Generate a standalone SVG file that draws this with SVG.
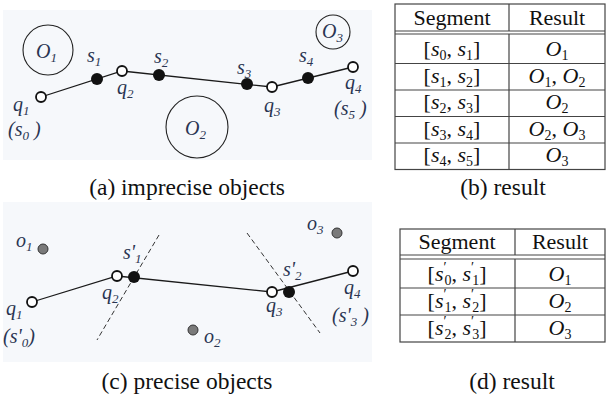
<svg xmlns="http://www.w3.org/2000/svg" width="607" height="396" viewBox="0 0 607 396">
<style>
.bg{fill:#f6f8fb}
.ln{stroke:#1a1a1a;stroke-width:1.3;fill:none}
.dash{stroke:#333;stroke-width:1;stroke-dasharray:5 3;fill:none}
.open{fill:#fff;stroke:#111;stroke-width:1.8}
.full{fill:#111}
.obj{fill:#7a7a7a;stroke:#333;stroke-width:1}
.circ{fill:none;stroke:#222;stroke-width:1.1}
text{font-family:'Liberation Serif','Times New Roman',serif}
.lbl{font-style:italic;font-size:20px;fill:#2a3552}
.s{font-size:13px}
.cap{font-size:23.5px;fill:#111;text-anchor:middle}
.tt{font-size:22px;fill:#111;text-anchor:middle}
.i{font-style:italic}
.sb{font-size:14px}
.tb{stroke:#444;stroke-width:1.2;fill:none}
</style>
<rect class="bg" x="3" y="10" width="369" height="150"/>
<rect class="bg" x="3" y="202" width="369" height="160"/>

<g id="connectors-a">
<polyline class="ln" points="41,97 122,71 272,87 353,67"/>
</g>
<g id="O1"><circle class="circ" cx="48" cy="50" r="25"/><text class="lbl" x="36" y="58">O<tspan class="s" dy="4">1</tspan></text></g>
<g id="O2"><circle class="circ" cx="197" cy="127" r="31"/><text class="lbl" x="185" y="135">O<tspan class="s" dy="4">2</tspan></text></g>
<g id="O3"><circle class="circ" cx="333" cy="32" r="17"/><text class="lbl" x="322" y="38">O<tspan class="s" dy="4">3</tspan></text></g>
<g id="q1a"><circle class="open" cx="41" cy="97" r="5"/><text class="lbl" x="13" y="111">q<tspan class="s" dy="4">1</tspan></text><text class="lbl" x="8" y="136">(s<tspan class="s" dy="4">0</tspan><tspan dy="-4"> )</tspan></text></g>
<g id="s1a"><circle class="full" cx="97" cy="79" r="6"/><text class="lbl" x="87" y="62">s<tspan class="s" dy="4">1</tspan></text></g>
<g id="q2a"><circle class="open" cx="122" cy="71" r="5"/><text class="lbl" x="117" y="94">q<tspan class="s" dy="4">2</tspan></text></g>
<g id="s2a"><circle class="full" cx="159" cy="75" r="6"/><text class="lbl" x="154" y="63">s<tspan class="s" dy="4">2</tspan></text></g>
<g id="s3a"><circle class="full" cx="247" cy="84" r="6"/><text class="lbl" x="237" y="74">s<tspan class="s" dy="4">3</tspan></text></g>
<g id="q3a"><circle class="open" cx="272" cy="87" r="5"/><text class="lbl" x="264" y="112">q<tspan class="s" dy="4">3</tspan></text></g>
<g id="s4a"><circle class="full" cx="308" cy="78" r="6"/><text class="lbl" x="299" y="62">s<tspan class="s" dy="4">4</tspan></text></g>
<g id="q4a"><circle class="open" cx="353" cy="67" r="5"/><text class="lbl" x="345" y="89">q<tspan class="s" dy="4">4</tspan></text><text class="lbl" x="334" y="115">(s<tspan class="s" dy="4">5</tspan><tspan dy="-4"> )</tspan></text></g>
<text class="cap" x="187" y="195">(a) imprecise objects</text>

<g id="connectors-c">
<polyline class="ln" points="32,302 117,276 272,292 353,271"/>
<line class="dash" x1="159" y1="235" x2="97" y2="340"/>
<line class="dash" x1="247" y1="233" x2="320" y2="333"/>
</g>
<g id="o1c"><circle class="obj" cx="43" cy="249" r="5"/><text class="lbl" x="16" y="247">o<tspan class="s" dy="4">1</tspan></text></g>
<g id="o2c"><circle class="obj" cx="193" cy="330" r="5"/><text class="lbl" x="204" y="343">o<tspan class="s" dy="4">2</tspan></text></g>
<g id="o3c"><circle class="obj" cx="337" cy="233" r="5"/><text class="lbl" x="307" y="230">o<tspan class="s" dy="4">3</tspan></text></g>
<g id="q1c"><circle class="open" cx="32" cy="302" r="5"/><text class="lbl" x="6" y="315">q<tspan class="s" dy="4">1</tspan></text><text class="lbl" x="3" y="343">(s'<tspan class="s" dy="4">0</tspan><tspan dy="-4">)</tspan></text></g>
<g id="q2c"><circle class="open" cx="117" cy="276" r="5"/><text class="lbl" x="102" y="299">q<tspan class="s" dy="4">2</tspan></text></g>
<g id="s1c"><circle class="full" cx="134" cy="277" r="6"/><text class="lbl" x="123" y="259">s'<tspan class="s" dy="4">1</tspan></text></g>
<g id="q3c"><circle class="open" cx="272" cy="292" r="5"/><text class="lbl" x="266" y="312">q<tspan class="s" dy="4">3</tspan></text></g>
<g id="s2c"><circle class="full" cx="289" cy="292" r="6"/><text class="lbl" x="283" y="276">s'<tspan class="s" dy="4">2</tspan></text></g>
<g id="q4c"><circle class="open" cx="353" cy="271" r="5"/><text class="lbl" x="344" y="294">q<tspan class="s" dy="4">4</tspan></text><text class="lbl" x="332" y="322">(s'<tspan class="s" dy="4">3</tspan><tspan dy="-4"> )</tspan></text></g>
<text class="cap" x="187" y="389">(c) precise objects</text>

<g id="table-b">
<rect class="tb" x="395" y="4" width="210" height="165.5"/>
<line class="tb" x1="395" y1="31" x2="605" y2="31"/>
<line class="tb" x1="395" y1="34" x2="605" y2="34"/>
<line class="tb" x1="395" y1="63.5" x2="605" y2="63.5"/>
<line class="tb" x1="395" y1="90" x2="605" y2="90"/>
<line class="tb" x1="395" y1="116.5" x2="605" y2="116.5"/>
<line class="tb" x1="395" y1="143" x2="605" y2="143"/>
<line class="tb" x1="509" y1="4" x2="509" y2="31"/>
<line class="tb" x1="509" y1="34" x2="509" y2="169.5"/>
<text class="tt" x="452" y="25">Segment</text>
<text class="tt" x="557" y="25">Result</text>
<text class="tt" x="452" y="56">[<tspan class="i">s</tspan><tspan class="sb" dy="4">0</tspan><tspan dy="-4">, </tspan><tspan class="i">s</tspan><tspan class="sb" dy="4">1</tspan><tspan dy="-4">]</tspan></text>
<text class="tt" x="557" y="56"><tspan class="i">O</tspan><tspan class="sb" dy="4">1</tspan></text>
<text class="tt" x="452" y="83">[<tspan class="i">s</tspan><tspan class="sb" dy="4">1</tspan><tspan dy="-4">, </tspan><tspan class="i">s</tspan><tspan class="sb" dy="4">2</tspan><tspan dy="-4">]</tspan></text>
<text class="tt" x="557" y="83"><tspan class="i">O</tspan><tspan class="sb" dy="4">1</tspan><tspan dy="-4">, </tspan><tspan class="i">O</tspan><tspan class="sb" dy="4">2</tspan></text>
<text class="tt" x="452" y="109">[<tspan class="i">s</tspan><tspan class="sb" dy="4">2</tspan><tspan dy="-4">, </tspan><tspan class="i">s</tspan><tspan class="sb" dy="4">3</tspan><tspan dy="-4">]</tspan></text>
<text class="tt" x="557" y="109"><tspan class="i">O</tspan><tspan class="sb" dy="4">2</tspan></text>
<text class="tt" x="452" y="136">[<tspan class="i">s</tspan><tspan class="sb" dy="4">3</tspan><tspan dy="-4">, </tspan><tspan class="i">s</tspan><tspan class="sb" dy="4">4</tspan><tspan dy="-4">]</tspan></text>
<text class="tt" x="557" y="136"><tspan class="i">O</tspan><tspan class="sb" dy="4">2</tspan><tspan dy="-4">, </tspan><tspan class="i">O</tspan><tspan class="sb" dy="4">3</tspan></text>
<text class="tt" x="452" y="162">[<tspan class="i">s</tspan><tspan class="sb" dy="4">4</tspan><tspan dy="-4">, </tspan><tspan class="i">s</tspan><tspan class="sb" dy="4">5</tspan><tspan dy="-4">]</tspan></text>
<text class="tt" x="557" y="162"><tspan class="i">O</tspan><tspan class="sb" dy="4">3</tspan></text>
</g>
<text class="cap" x="503" y="195">(b) result</text>

<g id="table-d">
<rect class="tb" x="400" y="229" width="205" height="113"/>
<line class="tb" x1="400" y1="255" x2="605" y2="255"/>
<line class="tb" x1="400" y1="259" x2="605" y2="259"/>
<line class="tb" x1="400" y1="288" x2="605" y2="288"/>
<line class="tb" x1="400" y1="315" x2="605" y2="315"/>
<line class="tb" x1="515" y1="229" x2="515" y2="255"/>
<line class="tb" x1="515" y1="259" x2="515" y2="342"/>
<text class="tt" x="457" y="249">Segment</text>
<text class="tt" x="560" y="249">Result</text>
<text class="tt" x="457" y="281">[<tspan class="i">s</tspan><tspan class="sb" dy="-9">′</tspan><tspan class="sb" dx="-2" dy="13">0</tspan><tspan dy="-4">, </tspan><tspan class="i">s</tspan><tspan class="sb" dy="-9">′</tspan><tspan class="sb" dx="-2" dy="13">1</tspan><tspan dy="-4">]</tspan></text>
<text class="tt" x="560" y="281"><tspan class="i">O</tspan><tspan class="sb" dy="4">1</tspan></text>
<text class="tt" x="457" y="308">[<tspan class="i">s</tspan><tspan class="sb" dy="-9">′</tspan><tspan class="sb" dx="-2" dy="13">1</tspan><tspan dy="-4">, </tspan><tspan class="i">s</tspan><tspan class="sb" dy="-9">′</tspan><tspan class="sb" dx="-2" dy="13">2</tspan><tspan dy="-4">]</tspan></text>
<text class="tt" x="560" y="308"><tspan class="i">O</tspan><tspan class="sb" dy="4">2</tspan></text>
<text class="tt" x="457" y="335">[<tspan class="i">s</tspan><tspan class="sb" dy="-9">′</tspan><tspan class="sb" dx="-2" dy="13">2</tspan><tspan dy="-4">, </tspan><tspan class="i">s</tspan><tspan class="sb" dy="-9">′</tspan><tspan class="sb" dx="-2" dy="13">3</tspan><tspan dy="-4">]</tspan></text>
<text class="tt" x="560" y="335"><tspan class="i">O</tspan><tspan class="sb" dy="4">3</tspan></text>
</g>
<text class="cap" x="512" y="389">(d) result</text>
</svg>
